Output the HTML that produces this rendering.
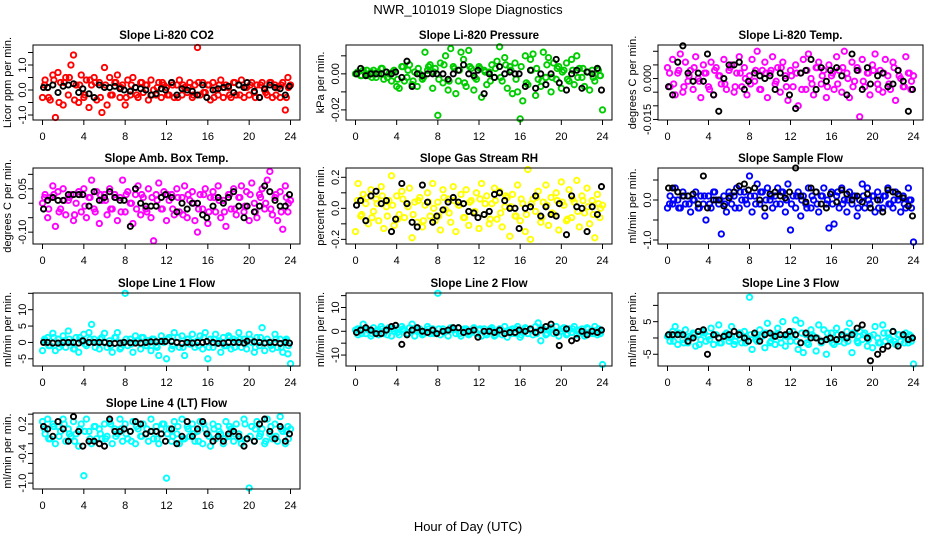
<!DOCTYPE html>
<html><head><meta charset="utf-8"><style>
html,body{margin:0;padding:0;background:#fff;width:936px;height:540px;overflow:hidden}
svg{display:block;font-family:"Liberation Sans",Arial,sans-serif}
</style></head><body>
<svg id="chart" width="936" height="540" viewBox="0 0 936 540" xmlns="http://www.w3.org/2000/svg">
<rect x="0" y="0" width="936" height="540" fill="#fff"/>
<text x="468" y="14" text-anchor="middle" font-size="13">NWR_101019  Slope Diagnostics</text>
<text x="468" y="531" text-anchor="middle" font-size="13">Hour of Day (UTC)</text>
</svg>
<script>
const hoursC = [0,0.25,0.5,0.75,1,1.25,1.5,1.75,2,2.25,2.5,2.75,3,3.25,3.5,3.75,4,4.25,4.5,4.75,5,5.25,5.5,5.75,6,6.25,6.5,6.75,7,7.25,7.5,7.75,8,8.25,8.5,8.75,9,9.25,9.5,9.75,10,10.25,10.5,10.75,11,11.25,11.5,11.75,12,12.25,12.5,12.75,13,13.25,13.5,13.75,14,14.25,14.5,14.75,15,15.25,15.5,15.75,16,16.25,16.5,16.75,17,17.25,17.5,17.75,18,18.25,18.5,18.75,19,19.25,19.5,19.75,20,20.25,20.5,20.75,21,21.25,21.5,21.75,22,22.25,22.5,22.75,23,23.25,23.5,23.75,24];
const hoursB = [0.1,0.5,1,1.5,2,2.5,3,3.5,3.9,4.5,5,5.5,6,6.5,7,7.5,7.9,8.5,9,9.5,10,10.5,11,11.5,11.9,12.5,13,13.5,14,14.5,15,15.5,15.9,16.5,17,17.5,18,18.5,19,19.5,19.8,20.5,21,21.5,22,22.5,23,23.5,23.9];
const hoursD = [0.2,0.6,1.1,1.6,2.1,2.6,3.1,3.6,4.1,4.6,5.1,5.6,6.1,6.6,7.1,7.6,8.1,8.6,9.1,9.6,10.1,10.6,11.1,11.6,12.1,12.6,13.1,13.6,14.1,14.6,15.1,15.6,16.1,16.6,17.1,17.6,18.1,18.6,19.1,19.6,20.1,20.6,21.1,21.6,22.1,22.6,23.1,23.6,23.8];
const xTicks = [0,4,8,12,16,20,24];

const co2C = [-0.3,0.4,0.1,-0.4,0.6,-1.1,0.7,0.3,-0.6,0.5,-0.2,1.0,1.4,0.2,-0.5,0.6,-0.3,0.4,-0.7,0.2,0.5,-0.4,0.3,-0.9,0.9,-0.6,0.5,-0.2,0.3,0.6,-0.3,0.2,-0.6,0.4,-0.2,0.5,0.1,-0.3,0.3,-0.1,0.2,-0.4,0.4,0.0,-0.2,0.3,-0.3,0.2,0.1,-0.2,0.3,-0.3,0.2,0.4,-0.2,0.1,-0.1,0.3,-0.3,0.2,1.7,-0.2,0.3,-0.1,0.2,-0.4,0.3,0.0,-0.2,0.4,-0.3,0.2,0.1,-0.3,0.3,-0.2,0.2,0.4,-0.3,0.1,-0.2,0.3,-0.1,0.2,-0.3,0.3,0.0,-0.2,0.3,-0.3,0.2,0.1,-0.3,0.3,-0.8,0.5,0.2];
const co2D = [0.2,-0.3,0.4,-0.5,0.3,0.5,-0.4,0.2,-0.2,0.4,0.3,-0.3,0.2,-0.2,0.3,0.1,-0.3,0.2,-0.2,0.3,0.2,-0.2,0.1,0.3,-0.2,0.2,-0.3,0.2,0.1,-0.2,0.3,-0.1,0.2,-0.3,0.2,0.1,-0.2,0.3,-0.2,0.1,0.2,-0.3,0.2,-0.1,0.3,-0.2,0.2,-0.3,0.1];
const co2B = [0.1,0.1,0.2,-0.1,0.15,0.2,0.25,-0.1,0.05,-0.15,-0.3,0.2,0.1,0.1,0.15,0.05,0.0,-0.05,0.1,0.05,0.0,-0.2,-0.15,0.05,0.0,0.3,-0.2,0.05,0.0,-0.05,-0.2,0.2,-0.3,0.0,0.05,0.1,0.15,-0.1,0.2,0.1,0.3,-0.05,-0.3,0.05,0.2,0.1,0.05,-0.2,0.15];
const presC = [0,0.001,-0.001,0.002,0,-0.001,0.001,0.002,-0.002,0,0.003,-0.003,0.001,0,-0.004,0.002,-0.007,-0.008,0.004,-0.004,-0.002,0.005,-0.006,0.001,-0.007,0,-0.003,0.012,0.002,0.005,-0.008,0.003,-0.023,0.006,-0.005,0.010,-0.009,0.014,0.004,-0.011,-0.004,0.012,0.008,-0.007,0.013,0.003,-0.009,-0.003,0.004,-0.013,0.002,-0.006,0.001,0.005,-0.002,0.007,0.015,-0.004,0.009,-0.008,0.004,-0.011,0.006,-0.010,-0.025,-0.015,0.010,-0.006,0.008,0.011,-0.012,-0.003,-0.007,0.012,-0.002,0.009,-0.010,0.006,-0.003,0.004,-0.008,0.002,0.006,-0.004,0.008,-0.006,0.010,0.003,-0.002,-0.007,0.001,-0.009,0.002,-0.004,0.003,-0.001,-0.020];
const presD = [0.001,-0.001,0.002,-0.002,0.001,0.003,-0.002,0.001,-0.003,0.004,0.002,-0.004,0.003,-0.002,0.004,0.001,-0.003,0.005,-0.004,0.003,0.002,-0.005,0.004,-0.002,0.003,0.001,-0.004,0.003,-0.002,0.005,0.002,-0.003,0.004,-0.005,0.002,0.003,-0.004,0.005,-0.002,0.003,0.001,-0.003,0.002,-0.002,0.003,0.001,-0.002,0.002,-0.001];
const presB = [0,0.003,-0.001,0,0,0,0.001,0,0.001,-0.002,0.007,-0.007,0,-0.001,0,0,0,0,-0.003,0,0.002,0.005,0,-0.001,0.002,-0.011,0,-0.002,0.004,0,0.001,0,0,-0.007,0.002,-0.008,0,-0.006,0,0.008,-0.005,-0.009,0,0.002,-0.008,0.001,0,0.003,-0.009];
const tempC = [0.004,-0.003,0.007,-0.006,0.002,0.009,-0.005,0.006,-0.001,0.003,-0.004,0.008,0.000,-0.007,0.005,0.002,-0.003,0.006,-0.006,0.004,0.001,-0.002,0.007,-0.004,0.003,0.005,-0.005,0.002,0.008,-0.003,0.004,-0.006,0.001,0.007,-0.001,0.010,-0.004,0.003,0.006,-0.007,0.002,0.008,-0.002,0.004,-0.005,0.006,0.001,-0.008,0.003,-0.003,0.005,-0.010,0.002,0.007,-0.004,0.009,0.000,-0.006,0.004,0.006,-0.002,0.003,-0.007,0.005,0.001,-0.004,0.008,0.003,-0.005,0.010,0.002,-0.007,0.006,-0.001,0.004,-0.014,0.007,-0.003,0.002,-0.006,0.005,0.009,-0.002,0.003,-0.005,0.007,0.001,-0.004,0.006,-0.008,0.003,0.000,-0.003,0.008,0.002,-0.004,0.001];
const tempD = [0.002,-0.002,0.003,-0.003,0.001,0.004,-0.001,0.002,-0.004,0.003,0.001,-0.002,0.004,-0.003,0.002,0.000,-0.002,0.003,-0.004,0.002,0.003,-0.001,0.004,-0.003,0.001,0.002,-0.004,0.003,-0.002,0.004,0.001,-0.003,0.002,-0.002,0.004,0.000,-0.003,0.003,-0.001,0.002,0.003,-0.004,0.002,-0.002,0.004,0.001,-0.003,0.002,-0.001];
const tempB = [-0.003,-0.006,0.006,0.012,0.002,-0.001,0.002,-0.001,0.009,-0.006,-0.012,0.000,0.005,0.005,0.006,-0.004,-0.001,0.002,0.001,0.000,0.001,-0.004,0.002,0.000,-0.006,-0.011,0.002,0.003,0.007,-0.004,0.004,-0.001,0.003,0.004,0.001,-0.006,0.009,0.003,-0.004,0.004,-0.002,0.001,0.002,-0.003,-0.002,0.003,-0.001,-0.012,-0.004];
const ambC = [0.00,0.03,-0.05,0.02,0.06,-0.08,0.04,-0.02,0.05,-0.04,0.01,0.03,-0.06,0.00,0.04,-0.03,0.05,-0.05,0.02,0.08,-0.02,0.04,-0.07,0.01,0.03,-0.04,0.05,-0.02,0.03,-0.06,0.02,0.08,-0.03,0.04,0.00,-0.07,0.03,0.06,-0.04,0.02,-0.02,0.05,-0.05,-0.13,0.03,0.07,-0.02,0.04,-0.06,0.01,0.03,-0.04,0.05,-0.03,0.02,0.06,-0.05,0.01,0.04,-0.06,-0.10,0.03,-0.02,0.05,-0.07,0.02,0.04,-0.03,0.06,-0.05,0.01,-0.08,0.03,-0.02,0.05,-0.04,0.02,0.06,-0.03,0.04,-0.06,0.07,0.00,-0.05,0.03,0.05,-0.02,0.08,0.11,-0.04,0.02,-0.06,0.04,-0.09,0.06,-0.03,0.01];
const ambD = [0.02,-0.02,0.03,-0.03,0.01,0.02,-0.04,0.03,-0.01,0.02,-0.03,0.03,0.01,-0.02,0.02,-0.03,0.03,0.00,-0.02,0.03,-0.03,0.02,0.01,-0.02,0.03,-0.02,0.02,-0.04,0.03,0.00,-0.02,0.03,-0.03,0.02,0.01,-0.03,0.03,-0.02,0.02,-0.01,0.03,-0.03,0.02,0.00,-0.02,0.03,-0.03,0.02,0.00];
const ambB = [-0.02,0.01,0.02,0.01,0.01,0.03,0.03,0.03,0.03,-0.01,0.04,0.01,0.02,0.04,0.02,0.01,0.01,-0.08,0.05,0.00,-0.01,-0.01,-0.01,0.02,0.03,0.02,-0.03,0.00,-0.02,0.00,0.00,-0.04,-0.05,-0.01,0.02,0.00,0.02,0.04,-0.01,-0.05,-0.01,-0.03,-0.01,0.06,0.04,0.01,-0.01,-0.01,0.03];
const rhC = [-0.15,0.16,-0.05,0.09,0.03,-0.10,0.12,-0.02,0.06,-0.08,0.14,-0.13,0.01,0.05,0.21,-0.11,0.08,-0.04,0.11,-0.06,0.03,0.13,-0.19,0.04,-0.09,0.07,-0.12,0.02,0.10,-0.05,0.16,-0.08,0.04,-0.14,0.12,-0.01,0.06,-0.09,0.14,-0.15,0.02,0.09,-0.06,0.12,-0.11,0.05,-0.03,0.10,-0.13,0.16,-0.04,0.08,-0.10,0.03,0.13,-0.07,0.11,-0.12,0.01,0.07,-0.18,0.09,-0.05,0.15,-0.08,0.03,-0.15,0.25,-0.20,0.06,-0.02,0.11,-0.09,0.04,0.15,-0.11,0.07,-0.04,0.10,-0.14,0.17,0.02,-0.08,0.12,-0.06,0.04,0.18,-0.12,0.08,-0.03,0.13,-0.10,0.05,-0.19,0.09,-0.06,0.02];
const rhD = [0.05,-0.04,0.07,-0.06,0.03,0.08,-0.05,0.02,-0.07,0.06,0.01,-0.04,0.05,-0.08,0.04,0.00,-0.05,0.07,-0.03,0.05,0.02,-0.06,0.04,-0.02,0.06,0.03,-0.07,0.05,-0.03,0.08,0.01,-0.05,0.06,-0.04,0.03,0.07,-0.06,0.02,-0.03,0.05,0.04,-0.07,0.06,-0.02,0.05,0.01,-0.04,0.03,0.00];
const rhB = [0.02,0.05,-0.08,0.08,0.11,0.03,0.05,-0.15,-0.07,0.16,0.03,-0.09,-0.12,0.15,0.04,-0.09,-0.05,-0.01,0.04,0.07,0.04,0.03,-0.02,-0.03,-0.06,-0.04,-0.02,0.09,0.10,0.05,0.00,0.00,-0.13,0.00,0.01,0.08,-0.05,0.01,-0.04,-0.05,0.03,-0.17,0.08,0.01,0.00,-0.15,0.01,-0.04,0.14];
const sampC = [-0.2,0.1,-0.1,0.3,0.0,-0.2,0.2,-0.1,0.1,-0.3,0.0,0.2,-0.2,0.1,-0.1,-0.5,0.1,-0.2,0.2,0.0,-0.1,-0.85,0.1,-0.3,0.2,-0.1,0.1,0.3,-0.2,0.0,0.2,-0.1,0.6,-0.3,0.1,0.4,-0.1,0.2,-0.4,0.3,0.0,-0.2,0.1,0.3,-0.1,0.2,-0.3,0.4,-0.75,0.1,-0.2,0.2,-0.4,0.1,-0.1,0.3,-0.2,0.0,0.2,-0.3,0.1,0.3,-0.1,-0.7,0.2,-0.6,0.1,-0.2,0.3,0.0,-0.3,0.2,-0.1,0.1,-0.4,0.0,0.4,-0.2,0.3,-0.1,0.1,-0.3,0.2,0.0,-0.2,0.1,0.3,-0.1,-0.2,0.2,0.0,-0.3,0.1,-0.2,0.3,0.0,-1.05];
const sampD = [-0.1,0.0,-0.2,0.1,-0.1,0.0,-0.2,0.1,-0.1,0.2,0.0,-0.1,0.1,-0.2,0.2,0.0,0.1,-0.1,0.2,0.0,0.1,-0.1,0.2,0.0,-0.1,0.1,0.0,-0.2,0.1,-0.1,0.1,0.0,-0.1,0.2,-0.1,0.0,0.1,-0.2,0.1,0.0,0.1,-0.2,0.1,-0.1,0.0,0.1,-0.1,0.0,-0.2];
const sampB = [0.3,0.3,0.2,0.1,0.1,0.15,-0.1,0.6,-0.2,0.0,0.0,-0.15,0.05,0.2,0.35,0.4,0.25,0.3,0.0,-0.2,0.15,0.2,0.1,0.05,0.2,0.8,0.1,-0.05,0.3,0.2,-0.1,-0.2,0.15,-0.05,0.25,0.15,0.0,0.1,-0.05,0.15,-0.2,0.0,-0.3,0.25,0.2,0.15,0.05,-0.15,-0.4];
const l1C = [-2.5,0.5,1.5,-1.0,2.8,-2.5,1.0,-0.5,2.0,-1.5,3.5,0.0,-2.0,1.5,-3.0,0.5,2.5,-1.0,3.0,5.5,1.0,0.0,-2.0,1.5,2.8,-1.5,0.5,-3.0,1.5,3.0,-2.0,0.0,15.0,-1.0,1.0,-3.0,2.0,0.5,-2.0,1.5,-1.0,0.5,-2.5,1.0,-1.0,-4.0,2.0,0.0,-5.0,1.5,-2.0,3.0,0.0,-1.5,2.0,-4.0,1.0,-0.5,2.5,-1.5,0.5,2.0,-2.0,3.0,-5.0,1.0,-1.5,2.5,0.0,-3.0,1.5,-1.0,2.0,-2.0,1.0,0.5,3.0,-1.5,1.0,-2.0,2.5,0.0,-3.0,1.5,-1.0,4.5,-2.5,1.0,0.0,-2.0,2.5,-1.5,1.0,-3.0,0.5,-3.5,-6.5];
const l1D = [1.0,-1.0,1.5,-1.5,0.5,1.0,-2.0,1.5,-0.5,1.0,-1.5,1.0,0.0,-1.0,1.5,-1.5,1.0,-0.5,0.5,1.5,-1.0,1.0,-1.5,0.5,1.0,-1.0,1.5,-1.5,1.0,0.0,-1.0,1.5,-1.5,1.0,0.5,-1.0,1.5,-1.5,1.0,-0.5,1.0,-1.5,1.5,0.0,-1.0,1.0,-1.5,1.0,-1.0];
const l1B = [0,0,-0.2,-0.2,0,0,0,-0.2,0.5,0,0,0,0,-0.3,-0.3,-0.2,0,-0.1,-0.2,-0.2,0,0.2,0.2,0.3,0.3,0.3,0,-0.3,0,-0.2,0,0,0.3,0,-0.3,-0.2,0,0,0,-0.2,0.4,0.2,0,-0.2,0,0,-0.3,0,-0.2];
const l2C = [0.5,-1.5,1.0,3.0,-1.0,0.5,-2.0,1.5,0.0,-1.5,2.0,-1.0,0.5,1.5,-2.0,0.0,1.0,-1.5,2.0,0.5,-1.0,1.5,3.0,-2.0,0.5,1.0,-1.5,0.0,2.0,-1.0,1.0,-0.5,16.0,-1.5,1.0,0.0,-2.0,1.5,0.5,-1.0,1.5,-2.0,0.5,1.0,-1.5,0.0,1.5,-1.0,0.5,-2.0,1.0,-1.5,0.5,1.5,-2.0,0.0,1.0,-1.5,2.0,-2.5,0.5,1.0,-1.0,2.0,-2.5,0.0,1.5,-1.0,0.5,-1.5,2.0,3.5,-4.0,1.0,-1.5,0.5,1.5,-1.0,2.0,-2.0,0.0,1.5,-1.5,1.0,-0.5,2.0,-1.5,0.5,1.0,-2.0,1.5,-1.0,0.5,2.0,-1.5,0.0,-14.0];
const l2D = [1,-1,1,-1,0.5,1,-1.5,1,-0.5,1,-1,1,0,-1,1,-1,1,-0.5,0.5,1,-1,1,-1,0.5,1,-1,1,-1.5,1,0,-1,1,-1.5,1,0.5,-1,1.5,-1,1,-0.5,1,-1,1,0,-1,1,-1,1,-1];
const l2B = [-0.5,0.5,1.5,0.5,-1.0,-1.0,0.5,2.0,2.5,-5.5,-1.5,0.5,1.5,0.0,-0.5,0.5,-1.0,0.0,0.5,1.5,1.5,-0.5,0.0,0.5,-2.5,0.0,0.0,-0.5,0.5,-1.0,-0.5,-0.5,0.5,0.0,1.0,-0.5,0.5,2.0,3.0,-0.5,-6.0,1.0,-4.0,-3.0,0.0,-1.5,0.0,-0.5,0.5];
const l3C = [0.5,-1.0,2.0,3.5,-2.0,1.0,-0.5,2.5,-1.5,0.0,1.5,-2.5,1.0,-0.5,2.0,-1.0,0.5,3.0,-2.0,1.0,4.0,-1.5,0.5,1.5,-1.0,3.5,-2.0,0.5,1.5,-1.5,2.0,0.0,12.5,-3.5,1.0,-1.0,2.5,0.5,-3.0,4.5,-1.5,1.0,-2.0,3.0,0.0,5.0,-2.5,1.0,-1.0,2.0,5.5,-3.5,4.5,-4.5,1.0,-2.0,2.5,0.5,-4.0,4.0,-1.5,2.5,-5.0,0.0,1.5,-2.0,3.0,-1.0,0.5,-1.5,2.0,4.5,-4.5,1.0,-1.0,2.0,-0.5,1.5,-2.5,0.5,-3.0,3.5,0.0,-1.5,4.0,-1.0,1.5,-0.5,2.0,-2.0,1.0,-1.0,0.5,1.5,-1.5,0.5,-8.0];
const l3D = [1.0,-1.0,1.5,-1.5,0.5,1.0,-2.0,1.5,-0.5,1.0,-1.5,1.0,0.0,-1.0,1.5,-1.5,1.0,-0.5,0.5,1.5,-1.0,1.0,-1.5,0.5,1.0,-1.0,1.5,-1.5,1.0,0.0,-1.0,1.5,-1.5,1.0,0.5,-1.0,1.5,-1.5,1.0,-0.5,1.0,-1.5,1.5,0.0,-1.0,1.0,-1.5,1.0,-1.0];
const l3B = [1,1,1,1,-1,0,2,2.5,-5,1,0,0.5,1,2,1,0,-1,1.5,-1,1,1.5,0.5,1,1,2,1,-1.5,1.5,0,0,-1,-0.5,0,-0.5,1,0,1,3,4,0,-7,-5,-3.5,-2.5,2,-2.5,1,-0.5,0];
const l4C = [0.25,0.0,0.3,-0.1,0.2,-0.2,0.15,0.05,0.3,-0.15,0.1,-0.05,0.25,0.0,-0.25,0.2,-0.85,0.3,0.05,-0.2,0.15,-0.1,0.1,-0.1,0.2,-0.05,0.25,-0.2,0.1,0.0,0.3,-0.15,0.2,-0.1,0.05,0.25,-0.2,0.1,-0.05,0.2,0.0,-0.15,0.3,-0.1,0.15,-0.2,0.1,0.2,-0.9,0.1,-0.15,0.25,0.0,-0.2,0.3,-0.1,0.15,-0.05,0.2,-0.15,0.05,0.25,-0.2,0.1,0.0,-0.25,0.2,-0.1,0.15,0.0,-0.2,0.25,-0.05,0.1,-0.15,0.2,0.0,-0.2,0.3,-0.1,-1.1,0.15,-0.15,0.25,-0.05,0.1,-0.2,0.3,0.0,-0.1,0.2,-0.15,0.35,0.05,-0.2,0.15,0.1];
const l4D = [0.1,-0.1,0.15,-0.05,0.2,0.0,-0.15,0.1,0.05,-0.1,0.15,0.0,-0.1,0.2,-0.05,0.1,0.0,-0.15,0.15,-0.05,0.1,0.05,-0.1,0.2,0.0,-0.05,0.15,-0.1,0.1,0.0,-0.15,0.2,-0.05,0.1,0.05,-0.1,0.15,0.0,-0.1,0.2,-0.05,0.1,0.0,-0.15,0.15,-0.05,0.1,0.05,-0.1];
const l4B = [0.15,0.1,-0.05,0.25,0.1,-0.15,0.35,0.05,-0.25,-0.15,-0.15,-0.2,-0.25,0.3,0.05,0.05,0.1,0.05,0.25,0.2,0.0,0.05,0.05,0.0,-0.15,0.1,-0.2,-0.05,0.25,-0.05,0.1,0.25,0.0,-0.15,-0.05,-0.15,0.0,0.05,-0.05,-0.25,-0.1,-0.15,0.2,0.3,0.05,-0.1,0.15,-0.15,0.0];

const panelTitles = ["Slope Li-820 CO2","Slope Li-820 Pressure","Slope Li-820 Temp.","Slope Amb. Box Temp.","Slope Gas Stream RH","Slope Sample Flow","Slope Line 1 Flow","Slope Line 2 Flow","Slope Line 3 Flow","Slope Line 4 (LT) Flow"];
const panelYLabels = ["Licor ppm per min.","kPa per min.","degrees C per min.","degrees C per min.","percent per min.","ml/min per min.","ml/min per min.","ml/min per min.","ml/min per min.","ml/min per min."];
const colorSeries = [co2C,presC,tempC,ambC,rhC,sampC,l1C,l2C,l3C,l4C];
const colorSeries2 = [co2D,presD,tempD,ambD,rhD,sampD,l1D,l2D,l3D,l4D];
const blackSeries = [co2B,presB,tempB,ambB,rhB,sampB,l1B,l2B,l3B,l4B];
const yRanges = [[-1.2,1.8],[-0.0256,0.016],[-0.0152,0.0123],[-0.141,0.122],[-0.23,0.26],[-1.1,0.8],[-7.2,15.1],[-14.6,16.1],[-8.6,13.8],[-1.12,0.424]];
const yTicks = [[-1,-0.5,0,0.5,1,1.5],[-0.02,-0.01,0,0.01],[-0.015,-0.01,-0.005,0,0.005,0.01],[-0.1,-0.05,0,0.05,0.1],[-0.2,-0.1,0,0.1,0.2],[-1,-0.5,0,0.5],[-5,0,5,10,15],[-10,-5,0,5,10,15],[-5,0,5,10],[-1,-0.8,-0.6,-0.4,-0.2,0,0.2,0.4]];
const yLabelVals = [[-1,0,1],[-0.02,0],[-0.015,0],[-0.1,0.05],[-0.2,0,0.2],[-1,0],[-5,0,5,10],[-10,0,10],[-5,5],[-1,-0.4,0.2]];
const yLabelText = [["-1.0","0.0","1.0"],["-0.02","0.00"],["-0.015","0.000"],["-0.10","0.05"],["-0.2","0.0","0.2"],["-1.0","0.0"],["-5","0","5","10"],["-10","0","10"],["-5","5"],["-1.0","-0.4","0.2"]];
const colors = ["#ff0000","#00cd00","#ff00ff","#ff00ff","#ffff00","#0000ff","#00ffff","#00ffff","#00ffff","#00ffff"];

const colLeft=[33,346,658], colRight=[300,612,923];
const rowTop=[45,168,293,413], rowBot=[120,244,366,489];
const svg=document.getElementById('chart');
const NS='http://www.w3.org/2000/svg';
function mk(tag,attrs,parent){const e=document.createElementNS(NS,tag);for(const k in attrs)e.setAttribute(k,attrs[k]);(parent||svg).appendChild(e);return e;}

panelTitles.forEach((title,p)=>{
  const c=p%3, r=Math.floor(p/3);
  const L=colLeft[c], R=colRight[c], T=rowTop[r], B=rowBot[r];
  const x0=L+9.5, x1=R-9.5;
  const [ymin,ymax]=yRanges[p];
  const xs=h=>x0+(h/24)*(x1-x0);
  const ys=v=>B-(v-ymin)/(ymax-ymin)*(B-T);
  const g=mk('g',{});
  
  
  const t=mk('text',{x:(L+R)/2,y:T-6,'text-anchor':'middle','font-size':'11.5','font-weight':'bold'},g);
  t.textContent=title;
  
  
  const yl=mk('text',{transform:`translate(${L-22},${(T+B)/2}) rotate(-90)`,'text-anchor':'middle','font-size':'11'},g);
  yl.textContent=panelYLabels[p];
  
  
  colorSeries[p].forEach((v,i)=>{
    const pt=mk('circle',{cx:xs(hoursC[i]),cy:ys(v),r:2.7,fill:'none',stroke:colors[p],'stroke-width':1.9},g);
    
    
  });
  colorSeries2[p].forEach((v,i)=>{
    const pt=mk('circle',{cx:xs(hoursD[i]),cy:ys(v),r:2.7,fill:'none',stroke:colors[p],'stroke-width':1.9},g);
    
    
  });
  blackSeries[p].forEach((v,i)=>{
    const pt=mk('circle',{cx:xs(hoursB[i]),cy:ys(v),r:2.6,fill:'none',stroke:'#000','stroke-width':1.9},g);
    
    
  });
  const box=mk('rect',{x:L,y:T,width:R-L,height:B-T,fill:'none',stroke:'#000','stroke-width':1},g);
  
  
  xTicks.forEach(h=>{
    const tk=mk('line',{x1:xs(h),x2:xs(h),y1:B,y2:B+5,stroke:'#000'},g);
    
    
    const tl=mk('text',{x:xs(h),y:B+20,'text-anchor':'middle','font-size':'11'},g);
    tl.textContent=String(h);
    
    
  });
  yTicks[p].forEach(v=>{
    const tk=mk('line',{x1:L-5,x2:L,y1:ys(v),y2:ys(v),stroke:'#000'},g);
    
    
  });
  yLabelVals[p].forEach((v,i)=>{
    const tl=mk('text',{transform:`translate(${L-7},${ys(v)}) rotate(-90)`,'text-anchor':'middle','font-size':'11'},g);
    tl.textContent=yLabelText[p][i];
    
    
  });
});
</script>
</body></html>
